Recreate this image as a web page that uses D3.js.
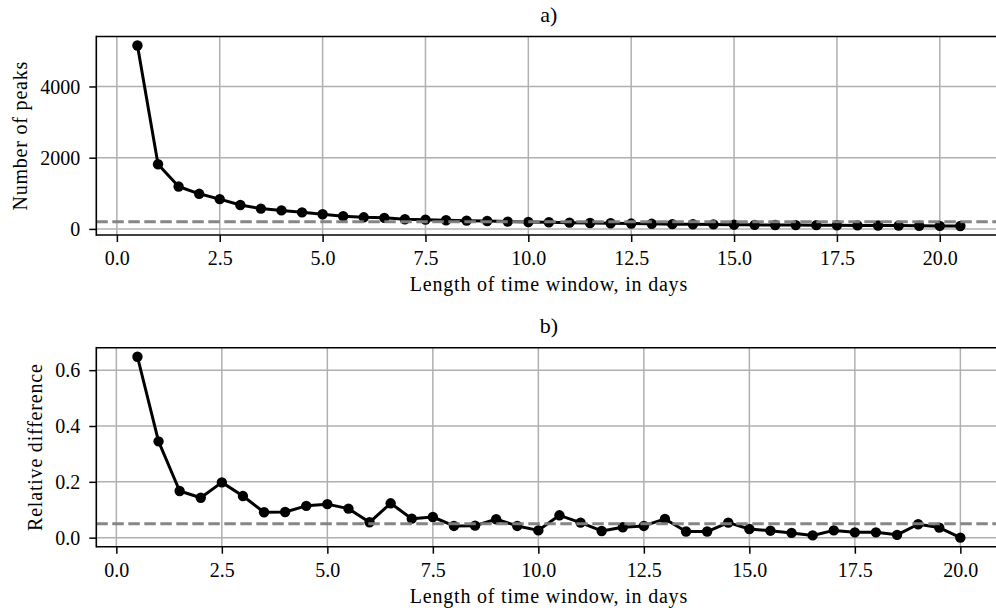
<!DOCTYPE html>
<html>
<head>
<meta charset="utf-8">
<script src="https://cdn.jsdelivr.net/npm/d3@7"></script>
<style>
  html, body { margin: 0; padding: 0; background: #fff; }
  svg { display: block; }
</style>
</head>
<body>
<svg id="chart" width="996" height="612" font-family="Liberation Serif"></svg>
<script>
// ---------- data ----------
const windowsA = [0.5, 1.0, 1.5, 2.0, 2.5, 3.0, 3.5, 4.0, 4.5, 5.0, 5.5, 6.0, 6.5, 7.0, 7.5, 8.0, 8.5, 9.0, 9.5, 10.0,
  10.5, 11.0, 11.5, 12.0, 12.5, 13.0, 13.5, 14.0, 14.5, 15.0, 15.5, 16.0, 16.5, 17.0, 17.5, 18.0, 18.5, 19.0, 19.5, 20.0, 20.5];
const numPeaks = [5150, 1815, 1190, 985, 835, 670, 570, 520, 465, 410, 355, 325, 310, 272, 260, 242, 232, 222, 205, 195,
  188, 175, 165, 158, 150, 143, 134, 130, 126, 118, 114, 110, 107, 105, 101, 98, 95, 93, 88, 84, 82];
const peaksThreshold = 200;

const windowsB = [0.5, 1.0, 1.5, 2.0, 2.5, 3.0, 3.5, 4.0, 4.5, 5.0, 5.5, 6.0, 6.5, 7.0, 7.5, 8.0, 8.5, 9.0, 9.5, 10.0,
  10.5, 11.0, 11.5, 12.0, 12.5, 13.0, 13.5, 14.0, 14.5, 15.0, 15.5, 16.0, 16.5, 17.0, 17.5, 18.0, 18.5, 19.0, 19.5, 20.0];
const relDiff = [0.648, 0.345, 0.167, 0.143, 0.198, 0.149, 0.091, 0.092, 0.114, 0.120, 0.104, 0.055, 0.123, 0.068, 0.074, 0.042, 0.043, 0.066, 0.042, 0.026,
  0.080, 0.054, 0.024, 0.037, 0.042, 0.067, 0.022, 0.022, 0.054, 0.031, 0.025, 0.017, 0.008, 0.026, 0.019, 0.019, 0.010, 0.048, 0.036, 0.0];
const relThreshold = 0.05;

const xTicks = [0, 2.5, 5, 7.5, 10, 12.5, 15, 17.5, 20];
const yTicksA = [0, 2000, 4000];
const yTicksB = [0, 0.2, 0.4, 0.6];

const xLabel = "Length of time window, in days";

// ---------- drawing ----------
const svg = d3.select("#chart");
const FONT = "Liberation Serif";
const FS = 20;
const LS = 0.8; // letter spacing for labels (wider Computer-Modern look)

function padded(vals) {
  const [lo, hi] = d3.extent(vals);
  const p = 0.05 * (hi - lo);
  return [lo - p, hi + p];
}

function panel(opts) {
  const { top, bottom, left, right, xs, ys, thr, yTicks, yFmt, title, ylabel, ylabelX, titleY, xtickY, xlabelY } = opts;
  const x = d3.scaleLinear().domain(padded(xs)).range([left, right]);
  const y = d3.scaleLinear().domain(padded(ys)).range([bottom, top]);
  const g = svg.append("g");

  // grid
  g.selectAll(".gx").data(xTicks).join("line")
    .attr("x1", d => x(d)).attr("x2", d => x(d))
    .attr("y1", top).attr("y2", bottom)
    .attr("stroke", "#b0b0b0").attr("stroke-width", 1.5);
  g.selectAll(".gy").data(yTicks).join("line")
    .attr("x1", left).attr("x2", right)
    .attr("y1", d => y(d)).attr("y2", d => y(d))
    .attr("stroke", "#b0b0b0").attr("stroke-width", 1.5);

  // data line + markers
  const pts = xs.map((v, i) => [v, ys[i]]);
  g.append("path").datum(pts)
    .attr("d", d3.line().x(d => x(d[0])).y(d => y(d[1])))
    .attr("fill", "none").attr("stroke", "#000").attr("stroke-width", 3)
    .attr("stroke-linejoin", "round");
  g.selectAll(".pt").data(pts).join("circle")
    .attr("cx", d => x(d[0])).attr("cy", d => y(d[1])).attr("r", 5.2)
    .attr("fill", "#000");

  // threshold dashed line
  g.append("line")
    .attr("x1", left).attr("x2", right)
    .attr("y1", y(thr)).attr("y2", y(thr))
    .attr("stroke", "#808080").attr("stroke-width", 3)
    .attr("stroke-dasharray", "11.5,4.5").attr("opacity", 0.95);

  // spines
  g.append("line").attr("x1", left).attr("x2", right + 10).attr("y1", top).attr("y2", top)
    .attr("stroke", "#000").attr("stroke-width", 1.6);
  g.append("line").attr("x1", left).attr("x2", right + 10).attr("y1", bottom).attr("y2", bottom)
    .attr("stroke", "#000").attr("stroke-width", 1.6);
  g.append("line").attr("x1", left).attr("x2", left).attr("y1", top - 0.8).attr("y2", bottom + 0.8)
    .attr("stroke", "#000").attr("stroke-width", 1.6);

  // x axis ticks
  const xa = g.append("g").attr("transform", `translate(0,${bottom})`)
    .call(d3.axisBottom(x).tickValues(xTicks).tickFormat(d3.format(".1f")).tickSize(7).tickPadding(0));
  xa.attr("font-family", FONT).attr("font-size", FS);
  xa.select(".domain").remove();
  xa.selectAll(".tick line").attr("stroke", "#000").attr("stroke-width", 1.5);
  xa.selectAll(".tick text").attr("fill", "#000")
    .attr("dy", null).attr("y", xtickY - bottom);

  // y axis ticks
  const ya = g.append("g").attr("transform", `translate(${left},0)`)
    .call(d3.axisLeft(y).tickValues(yTicks).tickFormat(yFmt).tickSize(7).tickPadding(9));
  ya.attr("font-family", FONT).attr("font-size", FS);
  ya.select(".domain").remove();
  ya.selectAll(".tick line").attr("stroke", "#000").attr("stroke-width", 1.5);
  ya.selectAll(".tick text").attr("fill", "#000").attr("dy", "0.34em");

  // labels
  g.append("text").attr("x", (left + right) / 2).attr("y", xlabelY)
    .attr("text-anchor", "middle").attr("font-size", FS).attr("letter-spacing", LS)
    .attr("font-family", FONT).text(xLabel);
  g.append("text")
    .attr("transform", `translate(${ylabelX},${(top + bottom) / 2}) rotate(-90)`)
    .attr("text-anchor", "middle").attr("dominant-baseline", "central")
    .attr("font-size", FS).attr("letter-spacing", LS).attr("font-family", FONT).text(ylabel);
  g.append("text").attr("x", (left + right) / 2).attr("y", titleY)
    .attr("text-anchor", "middle").attr("font-size", 22).attr("font-family", FONT).text(title);
}

panel({
  top: 36.5, bottom: 235, left: 96.3, right: 1001.5,
  xs: windowsA, ys: numPeaks, thr: peaksThreshold,
  yTicks: yTicksA, yFmt: d3.format("d"),
  title: "a)", ylabel: "Number of peaks", ylabelX: 20,
  titleY: 22, xtickY: 265, xlabelY: 291
});

panel({
  top: 347.7, bottom: 546.7, left: 96.3, right: 1001.5,
  xs: windowsB, ys: relDiff, thr: relThreshold,
  yTicks: yTicksB, yFmt: d3.format(".1f"),
  title: "b)", ylabel: "Relative difference", ylabelX: 35,
  titleY: 333, xtickY: 577, xlabelY: 603
});
</script>
</body>
</html>
